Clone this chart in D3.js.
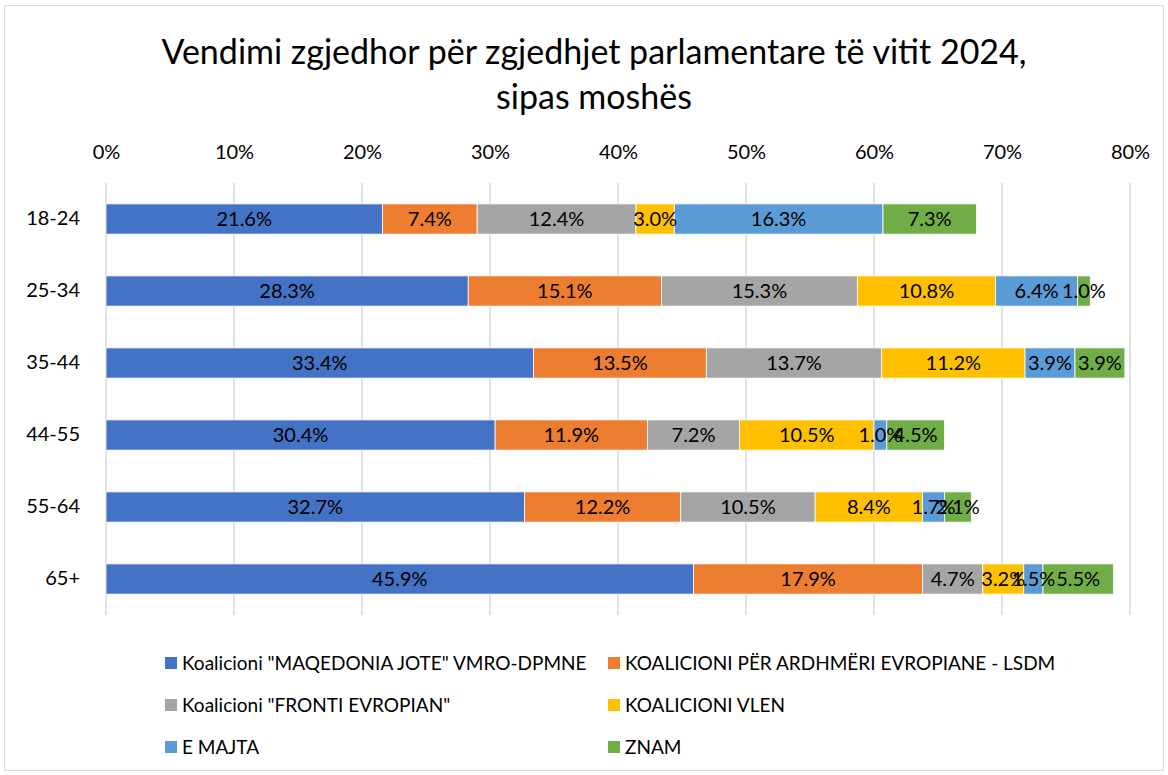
<!DOCTYPE html>
<html>
<head>
<meta charset="utf-8">
<script src="https://cdn.jsdelivr.net/npm/d3@7"></script>
<style>
  body { margin: 0; background: #fff; }
  text { font-family: Lato, "Open Sans", sans-serif; }
</style>
</head>
<body>
<div id="chart"></div>
<script>
const categories = ['18-24', '25-34', '35-44', '44-55', '55-64', '65+']
const seriesNames = [
  'Koalicioni "MAQEDONIA JOTE" VMRO-DPMNE',
  'KOALICIONI PËR ARDHMËRI EVROPIANE - LSDM',
  'Koalicioni "FRONTI EVROPIAN"',
  'KOALICIONI VLEN',
  'E MAJTA',
  'ZNAM'
]
const vmro = [21.6, 28.3, 33.4, 30.4, 32.7, 45.9]
const lsdm = [7.4, 15.1, 13.5, 11.9, 12.2, 17.9]
const fronti = [12.4, 15.3, 13.7, 7.2, 10.5, 4.7]
const vlen = [3.0, 10.8, 11.2, 10.5, 8.4, 3.2]
const emajta = [16.3, 6.4, 3.9, 1.0, 1.7, 1.5]
const znam = [7.3, 1.0, 3.9, 4.5, 2.1, 5.5]
const ticks = [0, 10, 20, 30, 40, 50, 60, 70, 80]
const colors = ['#4472C4', '#ED7D31', '#A5A5A5', '#FFC000', '#5B9BD5', '#70AD47']

const width = 1168
const height = 775
const margin = { top: 183, right: 38, bottom: 160, left: 106 }
const font = 'Lato, "Open Sans", sans-serif'

const rows = categories.map((cat, i) => ({
  cat,
  values: [vmro[i], lsdm[i], fronti[i], vlen[i], emajta[i], znam[i]]
}))

const svg = d3.select('#chart').append('svg')
  .attr('width', width)
  .attr('height', height)

// chart frame
svg.append('rect')
  .attr('x', 4.5).attr('y', 5.5)
  .attr('width', width - 9).attr('height', height - 10)
  .attr('fill', '#fff')
  .attr('stroke', '#d9d9d9')

const x = d3.scaleLinear()
  .domain([0, 80])
  .range([margin.left, width - margin.right])

const y = d3.scaleBand()
  .domain(categories)
  .range([margin.top, height - margin.bottom])
  .paddingInner(0.58)
  .paddingOuter(0.29)

// title
const title = ['Vendimi zgjedhor për zgjedhjet parlamentare të vitit 2024,', 'sipas moshës']
svg.append('g')
  .selectAll('text')
  .data(title)
  .join('text')
  .attr('x', width / 2 + 10)
  .attr('y', (d, i) => 64 + i * 45)
  .attr('text-anchor', 'middle')
  .attr('font-size', 34)
  .attr('fill', '#000')
  .text(d => d)

// gridlines
svg.append('g')
  .selectAll('line')
  .data(ticks)
  .join('line')
  .attr('x1', d => x(d)).attr('x2', d => x(d))
  .attr('y1', margin.top).attr('y2', height - margin.bottom)
  .attr('stroke', '#d9d9d9')
  .attr('stroke-width', 1.5)

// top axis
const axis = svg.append('g')
  .attr('transform', `translate(0, ${margin.top - 21})`)
  .call(d3.axisTop(x).tickValues(ticks).tickSize(0).tickFormat(d => d + '%'))
axis.select('.domain').remove()
axis.selectAll('text')
  .attr('font-size', 20)
  .attr('fill', '#000')
  .attr('font-family', font)

// category labels
const yAxis = svg.append('g')
  .attr('transform', `translate(${margin.left - 23}, 0)`)
  .call(d3.axisLeft(y).tickSize(0))
yAxis.select('.domain').remove()
yAxis.selectAll('text')
  .attr('font-size', 20)
  .attr('fill', '#000')
  .attr('font-family', font)

// stacked bars
const stackData = rows.map(r => {
  let acc = 0
  return r.values.map((v, j) => {
    const seg = { cat: r.cat, j, v, x0: acc, x1: acc + v }
    acc += v
    return seg
  })
})

const rowG = svg.append('g')
  .selectAll('g')
  .data(stackData)
  .join('g')

rowG.selectAll('rect')
  .data(d => d)
  .join('rect')
  .attr('x', d => x(d.x0))
  .attr('y', d => y(d.cat))
  .attr('width', d => x(d.x1) - x(d.x0))
  .attr('height', y.bandwidth())
  .attr('fill', d => colors[d.j])
  .attr('stroke', '#fff')
  .attr('stroke-width', 0.8)

rowG.selectAll('text')
  .data(d => d)
  .join('text')
  .attr('x', d => (x(d.x0) + x(d.x1)) / 2)
  .attr('y', d => y(d.cat) + y.bandwidth() / 2)
  .attr('dy', '0.36em')
  .attr('text-anchor', 'middle')
  .attr('font-size', 20)
  .attr('fill', '#000')
  .text(d => d.v.toFixed(1) + '%')

// legend
const legendPos = [
  [165, 663], [608, 663],
  [165, 705], [608, 705],
  [165, 747], [608, 747]
]
const legend = svg.append('g')
  .selectAll('g')
  .data(seriesNames)
  .join('g')
  .attr('transform', (d, i) => `translate(${legendPos[i][0]}, ${legendPos[i][1]})`)
legend.append('rect')
  .attr('x', 0).attr('y', -6)
  .attr('width', 12).attr('height', 12)
  .attr('fill', (d, i) => colors[i])
legend.append('text')
  .attr('x', 17).attr('y', 0)
  .attr('dy', '0.36em')
  .attr('font-size', 19)
  .attr('fill', '#000')
  .text(d => d)
</script>
</body>
</html>
